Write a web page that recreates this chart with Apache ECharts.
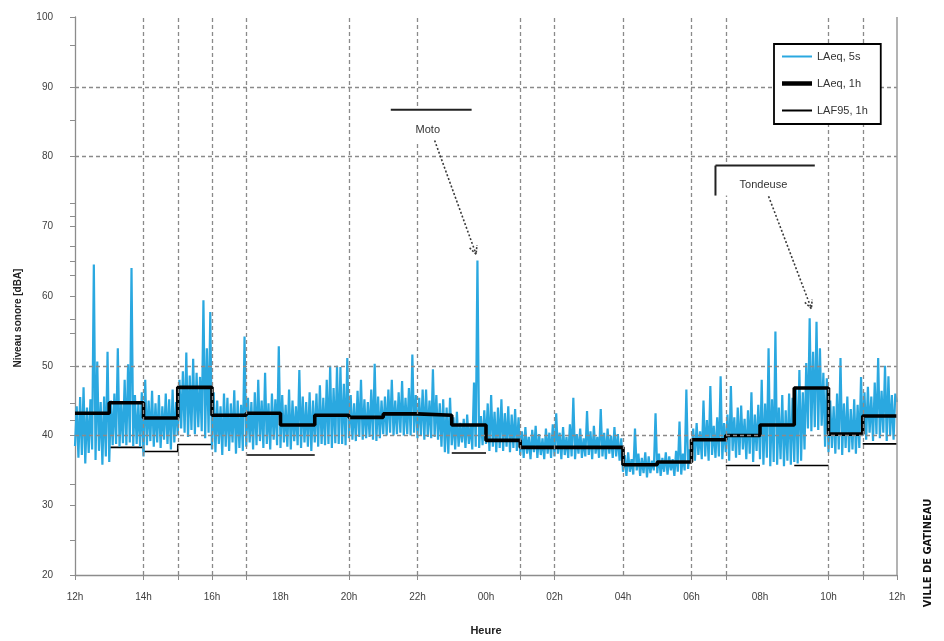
<!DOCTYPE html>
<html><head><meta charset="utf-8">
<script src="https://cdn.jsdelivr.net/npm/echarts@6/dist/echarts.min.js"></script>
<style>html,body{margin:0;padding:0;background:#fff}#c{width:944px;height:641px}</style>
</head><body><div id="c"></div>
<script>
// x tick labels (every 2 hours, starting at 12h)
const xLabels = ['12h','14h','16h','18h','20h','22h','00h','02h','04h','06h','08h','10h','12h'];
// hours (from 12h) where dashed vertical gridlines are drawn
const gridHours = [2,3,4,5,8,10,13,14,16,18,19,22,23];
const gridLevels = [40,50,80,90];
const xTicks = [0,2,3,4,5,8,10,13,14,18,19,22,23,24];
const yTicks = [20,25,30,33,40,42.2,44.6,50,54.6,56.7,60,63,65,67.1,70,71.5,73.3,80,85.2,90,95.9,100];

// LAeq 1h, one value per hour (12h..11h)
const laeq1h = [43.2,44.7,42.5,46.9,42.9,43.2,41.5,42.9,42.6,43.1,42.9,41.5,39.3,38.3,38.3,38.3,35.8,36.2,39.4,40.0,41.5,46.8,40.2,42.8];
// LAF95 1h, one value per hour (12h..11h); null where the line is not visible
const laf95 = [null,38.3,37.7,38.7,null,37.2,37.2,null,null,null,null,37.5,null,null,null,null,null,null,null,35.7,null,35.7,null,38.8];

// LAeq 5s, read as 20 samples per hour (12h -> 12h)
const samplesPerHour = 20;
const laeq5s = [
 38.5,44.2,36.8,45.5,37.2,46.9,36.0,44.0,37.5,45.2,38.0,64.5,36.5,50.6,37.8,44.8,35.8,45.6,37.0,52.0, // 12h
 36.2,45.0,38.6,46.0,38.8,52.5,38.4,44.5,38.9,48.0,38.6,50.2,39.0,64.0,38.5,45.8,38.8,44.6,38.4,46.2, // 13h
 37.0,48.0,38.6,45.0,39.2,46.4,38.4,44.6,39.0,45.8,38.2,44.2,39.4,46.0,38.8,45.2,38.0,46.6,39.0,44.8, // 14h
 40.0,48.0,41.0,49.2,40.4,51.9,39.8,48.6,40.8,51.0,40.2,49.0,41.2,48.4,40.6,59.4,39.6,52.5,40.4,57.7, // 15h
 38.0,46.2,37.6,45.0,38.8,44.2,37.2,46.0,38.4,45.4,37.8,44.6,39.0,46.5,37.4,45.0,38.2,44.4,37.8,54.2, // 16h
 38.4,45.4,39.0,44.8,38.0,46.2,38.6,48.0,39.2,45.0,38.2,49.0,38.8,44.6,38.0,46.0,39.4,45.2,38.6,52.8, // 17h
 38.2,45.8,39.0,44.4,38.4,46.6,38.0,45.0,39.2,44.2,38.6,49.4,38.2,45.6,39.0,44.8,38.4,46.2,37.8,45.0, // 18h
 39.0,46.0,38.4,47.2,38.8,45.4,38.6,48.0,38.8,50.0,38.2,46.8,38.9,50.0,38.8,49.8,38.8,47.4,38.6,51.1, // 19h
 39.6,45.8,39.4,44.6,39.2,46.4,39.8,48.0,39.4,45.2,39.6,44.8,39.8,46.6,39.4,50.3,39.2,45.6,39.6,45.0, // 20h
 40.2,45.6,40.0,46.6,40.4,48.0,40.0,45.0,40.2,46.2,40.4,47.8,40.0,45.4,40.2,46.8,40.0,51.6,40.4,45.8, // 21h
 39.6,45.4,40.0,46.6,39.4,46.6,39.8,45.0,39.6,49.5,39.8,45.8,39.4,44.6,38.4,45.2,37.6,44.0,37.4,45.4, // 22h
 38.6,42.6,38.0,43.4,38.4,41.8,39.0,42.4,38.2,43.0,38.8,41.6,38.0,47.6,38.4,65.1,38.2,42.8,38.6,43.6, // 23h
 38.8,44.6,37.8,45.8,38.4,43.4,37.6,44.0,38.2,45.2,37.8,43.2,38.4,44.2,37.6,43.0,38.2,43.8,37.8,42.6, // 00h
 37.2,40.6,36.8,41.2,37.4,39.8,36.6,40.8,37.6,41.4,36.8,40.2,37.2,39.6,36.6,41.0,37.4,40.4,36.8,41.6, // 01h
 37.0,43.2,37.4,40.4,36.6,41.2,37.2,39.8,36.8,41.6,37.0,45.4,36.6,40.2,37.4,41.0,36.8,39.6,37.0,43.5, // 02h
 37.2,40.6,36.6,41.4,37.4,39.8,36.8,43.8,37.0,40.4,36.6,41.0,37.4,40.0,36.8,41.2,37.0,40.2,36.4,39.6, // 03h
 34.8,37.2,34.2,37.6,34.8,36.6,34.4,41.0,35.0,37.4,34.2,36.8,34.6,37.6,34.0,37.0,34.6,36.4,35.0,43.2, // 04h
 34.6,37.4,34.2,36.8,34.8,37.6,34.4,37.0,35.0,36.6,34.2,37.8,34.8,42.0,34.4,37.4,35.0,46.6,35.2,38.0, // 05h
 36.8,41.0,36.4,41.8,37.2,40.6,36.6,45.0,37.0,42.2,36.4,47.1,37.2,41.4,36.8,42.6,37.0,48.5,36.6,41.8, // 06h
 37.6,43.0,36.4,47.1,37.8,42.6,36.8,44.0,37.2,44.3,38.0,42.4,36.6,43.6,37.4,46.2,36.2,43.0,37.8,44.4, // 07h
 36.6,48.0,35.8,44.6,36.8,52.5,35.6,45.2,36.2,54.9,35.8,44.0,36.6,45.8,35.6,43.6,36.4,46.0,35.8,45.4, // 08h
 36.2,47.0,36.0,49.4,36.4,46.2,38.0,50.4,41.0,56.8,40.6,52.0,41.2,56.3,40.8,52.5,41.4,49.0,38.4,48.2, // 09h
 37.6,45.0,38.2,44.2,37.4,46.0,38.0,51.1,37.2,44.6,38.2,45.6,37.6,43.8,38.0,45.2,37.4,44.4,38.2,48.4, // 10h
 40.0,46.2,39.4,47.0,40.4,45.6,39.2,47.6,40.2,51.1,39.6,46.4,40.4,50.0,39.2,48.5,40.0,45.8,39.4,46.0, // 11h
 44.8
];

const FONT = "'Liberation Sans', Arial, sans-serif";
const chart = echarts.init(document.getElementById('c'), null, {renderer: 'canvas'});

const blueData = laeq5s.map((v, i) => [i / samplesPerHour, v]);
// hourly step line: each hour is a horizontal run; consecutive hours are joined by a vertical
function hourlySteps(arr) {
  const out = [];
  arr.forEach((v, i) => {
    if (v == null) { out.push([i, null]); return; }
    out.push([i, v], [i + 1, v]);
  });
  return out;
}

const gridLineStyle = {color: '#8a8a8a', type: [4, 3], width: 1.3};

chart.setOption({
  animation: false,
  backgroundColor: '#fff',
  grid: {left: 75, right: 47, top: 17, bottom: 60},
  legend: {
    data: [
      {name: 'LAeq, 5s', icon: 'path://M0,0H30V2H0Z'},
      {name: 'LAeq, 1h', icon: 'path://M0,0H30V4.5H0Z'},
      {name: 'LAF95, 1h', icon: 'path://M0,0H30V2H0Z'}
    ],
    orient: 'vertical', left: 774, top: 44,
    padding: [7, 13, 8, 8], itemGap: 16, itemWidth: 30, itemHeight: 14,
    borderColor: '#000', borderWidth: 1.8, backgroundColor: '#fff', z: 10,
    textStyle: {fontFamily: FONT, fontSize: 11, color: '#333'}
  },
  xAxis: {
    type: 'value', min: 0, max: 24, interval: 2,
    axisLine: {lineStyle: {color: '#8c8c8c', width: 1.3}},
    axisTick: {show: true, customValues: xTicks, length: 5, lineStyle: {color: '#8c8c8c'}},
    axisLabel: {formatter: v => xLabels[Math.round(v / 2)], color: '#404040', fontSize: 10, margin: 17, fontFamily: FONT},
    splitLine: {show: false},
    name: 'Heure', nameLocation: 'middle', nameGap: 50,
    nameTextStyle: {fontFamily: FONT, fontWeight: 'bold', fontSize: 11, color: '#222'}
  },
  yAxis: {
    type: 'value', min: 20, max: 100, interval: 10,
    axisLine: {show: true, lineStyle: {color: '#8c8c8c', width: 1.3}},
    axisTick: {show: true, customValues: yTicks, length: 5, lineStyle: {color: '#8c8c8c'}},
    axisLabel: {color: '#404040', fontSize: 10, margin: 22, fontFamily: FONT},
    splitLine: {show: false}
  },
  series: [
    {
      name: 'grid', type: 'line', data: [[0, null]], symbol: 'none', silent: true, z: 1,
      markLine: {
        silent: true, symbol: 'none', label: {show: false}, lineStyle: gridLineStyle,
        data: gridHours.map(h => ({xAxis: h}))
          .concat(gridLevels.map(v => ({yAxis: v})))
          .concat([{xAxis: 24, lineStyle: {type: 'solid', color: '#9a9a9a', width: 1.5}}])
      }
    },
    {
      name: 'LAF95, 1h', type: 'line', data: hourlySteps(laf95), symbol: 'none',
      lineStyle: {color: '#000', width: 1.6}, itemStyle: {color: '#000'}, z: 2, connectNulls: false
    },
    {
      name: 'LAeq, 5s', type: 'line', data: blueData, symbol: 'none', sampling: null,
      lineStyle: {color: '#2aa8e0', width: 2.2}, itemStyle: {color: '#2aa8e0'}, z: 3
    },
    {
      name: 'LAeq, 1h', type: 'line', data: hourlySteps(laeq1h), symbol: 'none',
      lineStyle: {color: '#000', width: 3.6}, itemStyle: {color: '#000'}, z: 4
    }
  ]
});

// Annotations (placed in data coordinates)
const moto = {text: 'Moto', lineX: [9.22, 11.58], lineY: 86.7, boxBottom: 81.8, textAt: [10.3, 83.8], arrow: [[10.5, 82.3], [11.71, 66.0]]};
const tond = {text: 'Tondeuse', lineX: [18.7, 21.6], lineY: 78.7, boxBottom: 74.4, textAt: [20.1, 75.9], arrow: [[20.25, 74.3], [21.5, 58.2]]};

const px = (h, v) => chart.convertToPixel({gridIndex: 0}, [h, v]);
const arrowStyle = {stroke: '#3a3a3a', lineWidth: 1.6, lineDash: [2, 2], fill: null};
function arrowEls(a) {
  const p0 = px(a[0][0], a[0][1]), p1 = px(a[1][0], a[1][1]);
  const ang = Math.atan2(p1[1] - p0[1], p1[0] - p0[0]);
  const L = 9, w = 0.45;
  const h1 = [p1[0] - L * Math.cos(ang - w), p1[1] - L * Math.sin(ang - w)];
  const h2 = [p1[0] - L * Math.cos(ang + w), p1[1] - L * Math.sin(ang + w)];
  return [
    {type: 'polyline', shape: {points: [p0, p1]}, style: arrowStyle, z: 20},
    {type: 'polyline', shape: {points: [h1, p1, h2]}, style: Object.assign({}, arrowStyle, {lineDash: [2, 1.5]}), z: 20}
  ];
}
function boxEls(b, leftBar) {
  const tl = px(b.lineX[0], b.lineY), br = px(b.lineX[1], b.boxBottom);
  const t = px(b.textAt[0], b.textAt[1]);
  const els = [
    {type: 'rect', shape: {x: tl[0], y: tl[1], width: br[0] - tl[0], height: br[1] - tl[1]}, style: {fill: '#fff'}, z: 19},
    {type: 'line', shape: {x1: tl[0], y1: tl[1], x2: br[0], y2: tl[1]}, style: {stroke: '#222', lineWidth: 2}, z: 21},
    {type: 'text', x: t[0], y: t[1], style: {text: b.text, fontFamily: FONT, fontSize: 11, fill: '#333', align: 'center', verticalAlign: 'middle'}, z: 21}
  ];
  if (leftBar) els.push({type: 'line', shape: {x1: tl[0], y1: tl[1], x2: tl[0], y2: br[1]}, style: {stroke: '#222', lineWidth: 2}, z: 21});
  return els;
}

const graphics = []
  .concat(boxEls(moto, false), arrowEls(moto.arrow))
  .concat(boxEls(tond, true), arrowEls(tond.arrow))
  .concat([
    {type: 'text', x: 18, y: 318, rotation: Math.PI / 2, style: {text: 'Niveau sonore [dBA]', fontFamily: FONT, fontWeight: 'bold', fontSize: 10, fill: '#222', align: 'center', verticalAlign: 'middle'}, z: 21},
    {type: 'text', x: 928, y: 553, rotation: Math.PI / 2, style: {text: 'VILLE DE GATINEAU', fontFamily: "'Liberation Sans Narrow', 'DejaVu Sans Condensed', sans-serif", fontWeight: 'bold', fontSize: 11, fill: '#111', align: 'center', verticalAlign: 'middle'}, z: 21}
  ]);
chart.setOption({graphic: graphics});
</script>
</body></html>
